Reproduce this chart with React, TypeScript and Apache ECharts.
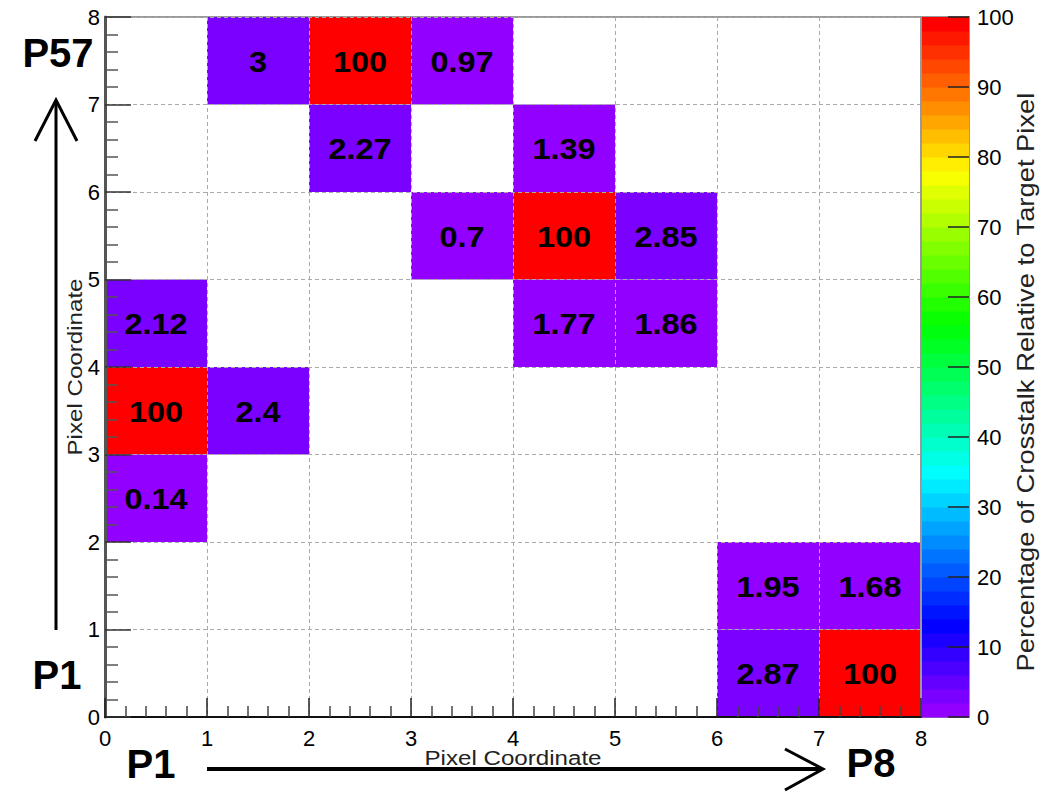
import React, { useEffect, useRef } from "react";
import * as echarts from "echarts";

// Cell data: [x bin, y bin, crosstalk percentage]
const cells: [number, number, number][] = [
  [1, 7, 3], [2, 7, 100], [3, 7, 0.97],
  [2, 6, 2.27], [4, 6, 1.39],
  [3, 5, 0.7], [4, 5, 100], [5, 5, 2.85],
  [0, 4, 2.12], [4, 4, 1.77], [5, 4, 1.86],
  [0, 3, 100], [1, 3, 2.4],
  [0, 2, 0.14],
  [6, 1, 1.95], [7, 1, 1.68],
  [6, 0, 2.87], [7, 0, 100],
];

const axisMin = 0;
const axisMax = 8;
const zMin = 0;
const zMax = 100;
const nColors = 50;
const zTicks = [0, 10, 20, 30, 40, 50, 60, 70, 80, 90, 100];

const xTitle = "Pixel Coordinate";
const yTitle = "Pixel Coordinate";
const zTitle = "Percentage of Crosstalk Relative to Target Pixel";

function paletteColor(i: number): string {
  const hue = 280 - (i + 1) * (280 / nColors);
  return `hsl(${hue.toFixed(2)}, 100%, 50%)`;
}
function colorFor(v: number): string {
  let i = Math.floor(((v - zMin) / (zMax - zMin)) * nColors);
  if (i < 0) i = 0;
  if (i > nColors - 1) i = nColors - 1;
  return paletteColor(i);
}

const bands: [number, number, number][] = [];
for (let i = 0; i < nColors; i++) {
  const step = (zMax - zMin) / nColors;
  bands.push([zMin + i * step, zMin + (i + 1) * step, i]);
}

const FONT = "'Liberation Sans', Arial, Helvetica, sans-serif";

export default function App() {
  const ref = useRef<HTMLDivElement>(null);
  useEffect(() => {
    if (!ref.current) return;
    const chart = echarts.init(ref.current, null, { renderer: "svg" });
    const option: any = {
      animation: false,
      backgroundColor: "#fff",
      textStyle: { fontFamily: FONT },
      grid: [
        { left: 105, top: 17, width: 816, height: 700, show: true, borderColor: "#999", borderWidth: 2, backgroundColor: "transparent" },
        { left: 921, top: 17, width: 48, height: 700, show: true, borderColor: "#999", borderWidth: 2, backgroundColor: "transparent" },
      ],
      xAxis: [
        {
          type: "value", gridIndex: 0, min: axisMin, max: axisMax, interval: 1, position: "bottom", z: 5,
          axisLine: { show: true, onZero: false, lineStyle: { color: "#111", width: 2 } },
          axisTick: { show: true, inside: true, length: 19, lineStyle: { color: "#222", width: 1.5 } },
          minorTick: { show: true, splitNumber: 5, length: 11, lineStyle: { color: "#444", width: 1.5 } },
          splitLine: { show: true, lineStyle: { color: "#aaa", width: 1, type: [4, 3] } },
          axisLabel: { fontSize: 22, color: "#000", margin: 10, fontFamily: FONT },
        },
        { type: "value", gridIndex: 1, min: 0, max: 1, show: false },
      ],
      yAxis: [
        {
          type: "value", gridIndex: 0, min: axisMin, max: axisMax, interval: 1, position: "left", z: 5,
          axisLine: { show: true, onZero: false, lineStyle: { color: "#555", width: 3 } },
          axisTick: { show: true, inside: true, length: 26, lineStyle: { color: "#333", width: 1.5 } },
          minorTick: { show: true, splitNumber: 5, length: 13, lineStyle: { color: "#555", width: 1.5 } },
          splitLine: { show: true, lineStyle: { color: "#aaa", width: 1, type: [4, 3] } },
          axisLabel: { fontSize: 22, color: "#000", margin: 5, fontFamily: FONT },
        },
        {
          type: "value", gridIndex: 1, min: zMin, max: zMax, interval: 10, position: "right", z: 5,
          axisLine: { show: true, lineStyle: { color: "#999", width: 2 } },
          axisTick: { show: false },
          splitLine: { show: false },
          axisLabel: { fontSize: 22, color: "#000", margin: 8, fontFamily: FONT },
        },
      ],
      series: [
        {
          type: "custom", xAxisIndex: 0, yAxisIndex: 0, z: 2,
          data: cells,
          renderItem: (params: any, api: any) => {
            const x = api.value(0);
            const y = api.value(1);
            const v = api.value(2);
            const p0 = api.coord([x, y + 1]);
            const p1 = api.coord([x + 1, y]);
            return {
              type: "group",
              children: [
                { type: "rect", shape: { x: p0[0], y: p0[1], width: p1[0] - p0[0], height: p1[1] - p0[1] }, style: { fill: colorFor(v) } },
                {
                  type: "text", x: (p0[0] + p1[0]) / 2, y: (p0[1] + p1[1]) / 2 + 1, scaleX: 1.12, z2: 10,
                  style: { text: String(v), font: `bold 29px ${FONT}`, fill: "#000", align: "center", verticalAlign: "middle" },
                },
              ],
            };
          },
        },
        {
          type: "custom", xAxisIndex: 1, yAxisIndex: 1, z: 2,
          data: bands,
          renderItem: (params: any, api: any) => {
            const lo = api.value(0);
            const hi = api.value(1);
            const i = api.value(2);
            const p0 = api.coord([0, hi]);
            const p1 = api.coord([1, lo]);
            return { type: "rect", shape: { x: p0[0], y: p0[1], width: p1[0] - p0[0], height: p1[1] - p0[1] + 0.5 }, style: { fill: paletteColor(i) } };
          },
        },
        {
          type: "custom", xAxisIndex: 1, yAxisIndex: 1, z: 3,
          data: zTicks,
          renderItem: (params: any, api: any) => {
            const v = api.value(0);
            const pa = api.coord([0.56, v]);
            const pb = api.coord([1, v]);
            return { type: "line", shape: { x1: pa[0], y1: pa[1], x2: pb[0], y2: pb[1] }, style: { stroke: "#222", lineWidth: 1.5 } };
          },
        },
      ],
      graphic: [
        { type: "text", x: 513, y: 758, scaleX: 1.15, style: { text: xTitle, font: `21px ${FONT}`, fill: "#222", align: "center", verticalAlign: "middle" } },
        { type: "text", x: 75, y: 367, rotation: Math.PI / 2, scaleX: 1.15, style: { text: yTitle, font: `21px ${FONT}`, fill: "#222", align: "center", verticalAlign: "middle" } },
        { type: "text", x: 1026, y: 382, rotation: Math.PI / 2, scaleX: 1.19, style: { text: zTitle, font: `23px ${FONT}`, fill: "#222", align: "center", verticalAlign: "middle" } },
        { type: "text", x: 58, y: 53, style: { text: "P57", font: `bold 40px ${FONT}`, fill: "#000", align: "center", verticalAlign: "middle" } },
        { type: "text", x: 57, y: 675, style: { text: "P1", font: `bold 40px ${FONT}`, fill: "#000", align: "center", verticalAlign: "middle" } },
        { type: "text", x: 151, y: 764, style: { text: "P1", font: `bold 40px ${FONT}`, fill: "#000", align: "center", verticalAlign: "middle" } },
        { type: "text", x: 871, y: 763, style: { text: "P8", font: `bold 40px ${FONT}`, fill: "#000", align: "center", verticalAlign: "middle" } },
        { type: "line", shape: { x1: 56, y1: 630, x2: 56, y2: 101 }, style: { stroke: "#000", lineWidth: 3 } },
        { type: "polyline", shape: { points: [[35, 141], [56, 100], [77, 141]] }, style: { stroke: "#000", lineWidth: 3, fill: null } },
        { type: "line", shape: { x1: 207, y1: 769, x2: 821, y2: 769 }, style: { stroke: "#000", lineWidth: 4 } },
        { type: "polyline", shape: { points: [[785, 749], [823, 769], [785, 790]] }, style: { stroke: "#000", lineWidth: 3, fill: null } },
      ],
    };
    chart.setOption(option);
    return () => chart.dispose();
  }, []);
  return <div ref={ref} style={{ position: "fixed", left: 0, top: 0, width: 1050, height: 807, background: "#fff" }} />;
}
